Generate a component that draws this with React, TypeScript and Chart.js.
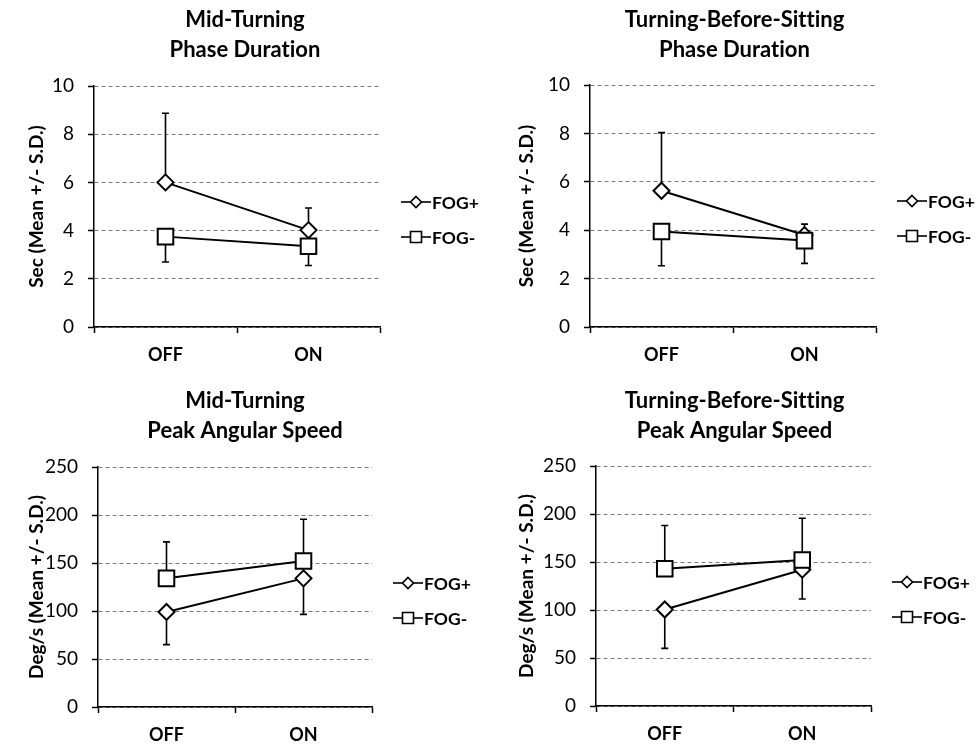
import React, { useEffect, useRef } from "react";
import { Chart, registerables } from "chart.js";

Chart.register(...registerables);

const categories = ["OFF", "ON"];
const seriesNames = ["FOG+", "FOG-"];

const durTicks = [0, 2, 4, 6, 8, 10];
const spdTicks = [0, 50, 100, 150, 200, 250];

// Mid-Turning Phase Duration
const midDurFogPos = [6.0, 4.02];
const midDurFogPosSD = [2.87, 0.92];
const midDurFogNeg = [3.75, 3.35];
const midDurFogNegSD = [1.05, 0.8];

// Turning-Before-Sitting Phase Duration
const tbsDurFogPos = [5.63, 3.8];
const tbsDurFogPosSD = [2.4, 0.45];
const tbsDurFogNeg = [3.95, 3.57];
const tbsDurFogNegSD = [1.42, 0.94];

// Mid-Turning Peak Angular Speed
const midSpdFogPos = [99, 134];
const midSpdFogPosSD = [34, 37.5];
const midSpdFogNeg = [134, 152];
const midSpdFogNegSD = [38, 43.5];

// Turning-Before-Sitting Peak Angular Speed
const tbsSpdFogPos = [100.5, 142];
const tbsSpdFogPosSD = [40.5, 30.5];
const tbsSpdFogNeg = [143, 152];
const tbsSpdFogNegSD = [45, 43.5];

const FONT = "Lato, 'Open Sans', sans-serif";

const noLigaturePlugin = {
  id: "noLigatures",
  beforeDraw(chart: any) {
    const ctx: any = chart.ctx;
    try {
      ctx.textRendering = "optimizeSpeed";
    } catch (e) {}
  },
};

const errorBarPlugin = {
  id: "errorBars",
  beforeDatasetsDraw(chart: any) {
    const ctx = chart.ctx;
    const yScale = chart.scales.y;
    chart.data.datasets.forEach((ds: any, i: number) => {
      const meta = chart.getDatasetMeta(i);
      meta.data.forEach((pt: any, j: number) => {
        const v = ds.data[j];
        const e = v + ds.errDir * ds.sd[j];
        const x = pt.x;
        const y0 = yScale.getPixelForValue(v);
        const y1 = yScale.getPixelForValue(e);
        ctx.save();
        ctx.strokeStyle = "#000";
        ctx.lineWidth = 1.6;
        ctx.beginPath();
        ctx.moveTo(x, y0);
        ctx.lineTo(x, y1);
        ctx.moveTo(x - 3.5, y1);
        ctx.lineTo(x + 3.5, y1);
        ctx.stroke();
        ctx.restore();
      });
    });
  },
};

const legendPlugin = {
  id: "customLegend",
  afterDraw(chart: any) {
    const { ctx, chartArea } = chart;
    const x0 = chartArea.right + 21;
    const ys = [chartArea.top + 116, chartArea.top + 151];
    chart.data.datasets.forEach((ds: any, k: number) => {
      const y = ys[k];
      ctx.save();
      ctx.strokeStyle = "#000";
      ctx.lineWidth = 1.6;
      ctx.beginPath();
      ctx.moveTo(x0, y);
      ctx.lineTo(x0 + 30, y);
      ctx.stroke();
      const cx = x0 + 15;
      ctx.fillStyle = "#fff";
      ctx.beginPath();
      if (k === 0) {
        const r = 5.5;
        ctx.moveTo(cx, y - r);
        ctx.lineTo(cx + r, y);
        ctx.lineTo(cx, y + r);
        ctx.lineTo(cx - r, y);
        ctx.closePath();
      } else {
        const h = 5.5;
        ctx.rect(cx - h, y - h, 2 * h, 2 * h);
      }
      ctx.fill();
      ctx.stroke();
      ctx.fillStyle = "#000";
      ctx.font = `bold 17.5px ${FONT}`;
      ctx.textBaseline = "middle";
      ctx.textAlign = "left";
      ctx.fillText(ds.label, x0 + 31, y + 1);
      ctx.restore();
    });
  },
};

type Panel = {
  title: string[];
  yTitle: string;
  ticks: number[];
  pos: number[];
  posSD: number[];
  neg: number[];
  negSD: number[];
  posDir: number;
  left: number;
  top: number;
  width: number;
  height: number;
  yWidth: number;
  rightWidth: number;
  titleTop: number;
  titleBottom: number;
  bottomPad: number;
};

const panels: Panel[] = [
  {
    title: ["Mid-Turning", "Phase Duration"],
    yTitle: "Sec (Mean +/- S.D.)",
    ticks: durTicks,
    pos: midDurFogPos, posSD: midDurFogPosSD, neg: midDurFogNeg, negSD: midDurFogNegSD,
    posDir: 1,
    left: 0, top: 0, width: 490, height: 373,
    yWidth: 94, rightWidth: 110, titleTop: 5, titleBottom: 21, bottomPad: 6,
  },
  {
    title: ["Turning-Before-Sitting", "Phase Duration"],
    yTitle: "Sec (Mean +/- S.D.)",
    ticks: durTicks,
    pos: tbsDurFogPos, posSD: tbsDurFogPosSD, neg: tbsDurFogNeg, negSD: tbsDurFogNegSD,
    posDir: 1,
    left: 490, top: 0, width: 489, height: 373,
    yWidth: 100, rightWidth: 103, titleTop: 5, titleBottom: 20, bottomPad: 6,
  },
  {
    title: ["Mid-Turning", "Peak Angular Speed"],
    yTitle: "Deg/s (Mean +/- S.D.)",
    ticks: spdTicks,
    pos: midSpdFogPos, posSD: midSpdFogPosSD, neg: midSpdFogNeg, negSD: midSpdFogNegSD,
    posDir: -1,
    left: 0, top: 373, width: 490, height: 374,
    yWidth: 98, rightWidth: 118, titleTop: 13, titleBottom: 21, bottomPad: 0,
  },
  {
    title: ["Turning-Before-Sitting", "Peak Angular Speed"],
    yTitle: "Deg/s (Mean +/- S.D.)",
    ticks: spdTicks,
    pos: tbsSpdFogPos, posSD: tbsSpdFogPosSD, neg: tbsSpdFogNeg, negSD: tbsSpdFogNegSD,
    posDir: -1,
    left: 490, top: 373, width: 489, height: 374,
    yWidth: 106, rightWidth: 108, titleTop: 13, titleBottom: 20, bottomPad: 1,
  },
];

function makeConfig(p: Panel): any {
  const step = p.ticks[1] - p.ticks[0];
  return {
    type: "line",
    data: {
      labels: categories,
      datasets: [
        {
          label: seriesNames[0],
          data: p.pos,
          sd: p.posSD,
          errDir: p.posDir,
          pointStyle: "rectRot",
          pointRadius: 8,
          pointBorderWidth: 2,
          pointBackgroundColor: "#fff",
          pointBorderColor: "#000",
          borderColor: "#000",
          backgroundColor: "#fff",
          borderWidth: 2,
          tension: 0,
          order: 1,
        },
        {
          label: seriesNames[1],
          data: p.neg,
          sd: p.negSD,
          errDir: -p.posDir,
          pointStyle: "rect",
          pointRadius: 11,
          pointBorderWidth: 2,
          pointBackgroundColor: "#fff",
          pointBorderColor: "#000",
          borderColor: "#000",
          backgroundColor: "#fff",
          borderWidth: 2,
          tension: 0,
          order: 0,
        },
      ],
    },
    options: {
      animation: false,
      responsive: false,
      devicePixelRatio: 1,
      layout: { padding: { left: 0, right: 0, top: 0, bottom: p.bottomPad } },
      plugins: {
        legend: { display: false },
        tooltip: { enabled: false },
        title: {
          display: true,
          text: p.title,
          color: "#000",
          font: { family: FONT, size: 22, weight: "bold", lineHeight: 30 / 22 },
          padding: { top: p.titleTop, bottom: p.titleBottom },
        },
      },
      scales: {
        x: {
          type: "category",
          offset: true,
          grid: {
            offset: true,
            drawOnChartArea: false,
            drawTicks: true,
            tickLength: 6,
            tickColor: "#000",
            tickWidth: 1.5,
          },
          border: { color: "#000", width: 1.5 },
          ticks: {
            color: "#000",
            font: { family: FONT, size: 18, weight: "bold" },
            padding: 11,
          },
          afterFit: (s: any) => {
            s.height = 40;
          },
        },
        y: {
          type: "linear",
          position: "left",
          min: p.ticks[0],
          max: p.ticks[p.ticks.length - 1],
          ticks: {
            stepSize: step,
            color: "#000",
            font: { family: FONT, size: 19 },
            padding: 14,
          },
          grid: {
            color: "#7a7a7a",
            lineWidth: 1,
            tickColor: "#000",
            tickLength: 6,
            tickWidth: 1.5,
          },
          border: { dash: [4, 3], color: "#000", width: 1.5 },
          title: {
            display: true,
            text: p.yTitle,
            color: "#000",
            font: { family: FONT, size: 19, weight: "bold" },
            padding: { top: 25, bottom: 0 },
          },
          afterFit: (s: any) => {
            s.width = p.yWidth;
          },
        },
        yRight: {
          type: "linear",
          axis: "y",
          position: "right",
          display: true,
          ticks: { display: false },
          grid: { display: false, drawTicks: false },
          border: { display: false },
          afterFit: (s: any) => {
            s.width = p.rightWidth;
          },
        },
      },
    },
    plugins: [noLigaturePlugin, errorBarPlugin, legendPlugin],
  };
}

function PanelChart({ p }: { p: Panel }) {
  const ref = useRef<HTMLCanvasElement | null>(null);
  useEffect(() => {
    if (!ref.current) return;
    const chart = new Chart(ref.current, makeConfig(p));
    return () => chart.destroy();
  }, [p]);
  return (
    <canvas
      ref={ref}
      width={p.width}
      height={p.height}
      style={{
        position: "absolute",
        left: p.left,
        top: p.top,
        width: p.width,
        height: p.height,
      }}
    />
  );
}

export default function App() {
  return (
    <div
      style={{
        position: "absolute",
        left: 0,
        top: 0,
        width: 979,
        height: 747,
        background: "#fff",
      }}
    >
      {panels.map((p, i) => (
        <PanelChart key={i} p={p} />
      ))}
    </div>
  );
}
